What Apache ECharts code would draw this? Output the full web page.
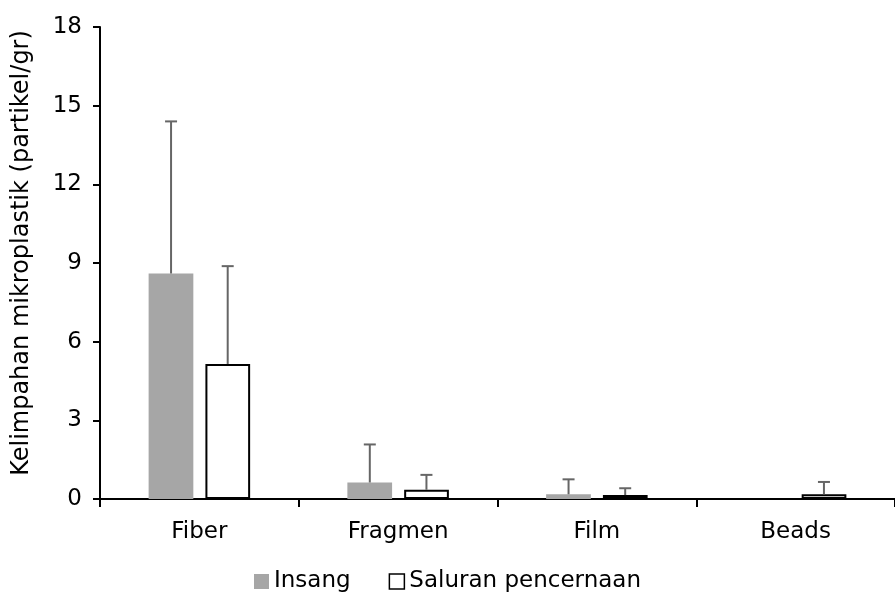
<!DOCTYPE html>
<html>
<head>
<meta charset="utf-8">
<script src="https://cdn.jsdelivr.net/npm/echarts@6/dist/echarts.min.js"></script>
<style>
html,body{margin:0;padding:0;background:#fff;}
#chart{width:895px;height:602px;}
</style>
</head>
<body>
<div id="chart"></div>
<script>
var categories = ['Fiber', 'Fragmen', 'Film', 'Beads'];
var insang = [8.6, 0.63, 0.18, 0];
var insangErr = [5.8, 1.45, 0.57, 0];
var saluran = [5.15, 0.35, 0.15, 0.18];
var saluranErr = [3.73, 0.57, 0.26, 0.47];
var yTicks = [0, 3, 6, 9, 12, 15, 18];

var font = '"DejaVu Sans", sans-serif';

// error bar data: [category index, bar value, bar value + error]
function errData(vals, errs) {
    var out = [];
    for (var i = 0; i < vals.length; i++) {
        if (errs[i] > 0) out.push([i, vals[i], vals[i] + errs[i]]);
    }
    return out;
}

function errRender(shift) {
    return function (params, api) {
        var band = api.size([1, 0])[0];
        var lo = api.coord([api.value(0), api.value(1)]);
        var hi = api.coord([api.value(0), api.value(2)]);
        var x = lo[0] + shift * band;
        var style = {stroke: '#666666', lineWidth: 2};
        return {
            type: 'group',
            children: [
                {type: 'line', shape: {x1: x, y1: lo[1], x2: x, y2: hi[1]}, style: style},
                {type: 'line', shape: {x1: x - 6, y1: hi[1], x2: x + 6, y2: hi[1]}, style: style}
            ]
        };
    };
}

var myChart = echarts.init(document.getElementById('chart'));
var option = {
    animation: false,
    textStyle: {fontFamily: font},
    grid: {left: 100, right: -5, top: 27, bottom: 103},
    legend: {
        bottom: 4,
        left: 'center',
        icon: 'rect',
        itemWidth: 15,
        itemHeight: 15,
        itemGap: 38,
        textStyle: {fontSize: 23, color: '#000', fontFamily: font},
        data: [
            {name: 'Insang', itemStyle: {color: '#a6a6a6', borderWidth: 0}},
            {name: 'Saluran pencernaan', itemStyle: {color: '#fff', borderColor: '#000', borderWidth: 1.5}}
        ]
    },
    xAxis: {
        type: 'category',
        data: categories,
        axisLine: {lineStyle: {color: '#000', width: 2}},
        axisTick: {show: true, length: 8, lineStyle: {color: '#000', width: 2}},
        axisLabel: {fontSize: 23, color: '#000', margin: 22, fontFamily: font}
    },
    yAxis: {
        type: 'value',
        min: 0,
        max: 18,
        interval: 3,
        name: 'Kelimpahan mikroplastik (partikel/gr)',
        nameLocation: 'middle',
        nameGap: 66,
        nameTextStyle: {fontSize: 24, color: '#000', fontFamily: font, padding: [0, 0, 0, 20]},
        axisLine: {show: true, lineStyle: {color: '#000', width: 2}},
        axisTick: {show: true, length: 7, lineStyle: {color: '#000', width: 2}},
        axisLabel: {
            fontSize: 23, color: '#000', margin: 18, fontFamily: font,
            formatter: function (v) { return yTicks.indexOf(v) >= 0 ? String(v) : ''; }
        },
        splitLine: {show: false}
    },
    series: [
        {
            name: 'Insang',
            type: 'bar',
            data: insang,
            barWidth: '22.5%',
            barGap: '27%',
            itemStyle: {color: '#a6a6a6'}
        },
        {
            name: 'Saluran pencernaan',
            type: 'bar',
            data: saluran,
            barWidth: '22.5%',
            itemStyle: {color: '#fff', borderColor: '#000', borderWidth: 2}
        },
        {
            type: 'custom',
            data: errData(insang, insangErr),
            renderItem: errRender(-0.1425),
            z: 5
        },
        {
            type: 'custom',
            data: errData(saluran, saluranErr),
            renderItem: errRender(0.1425),
            z: 5
        }
    ]
};
myChart.setOption(option);
</script>
</body>
</html>
